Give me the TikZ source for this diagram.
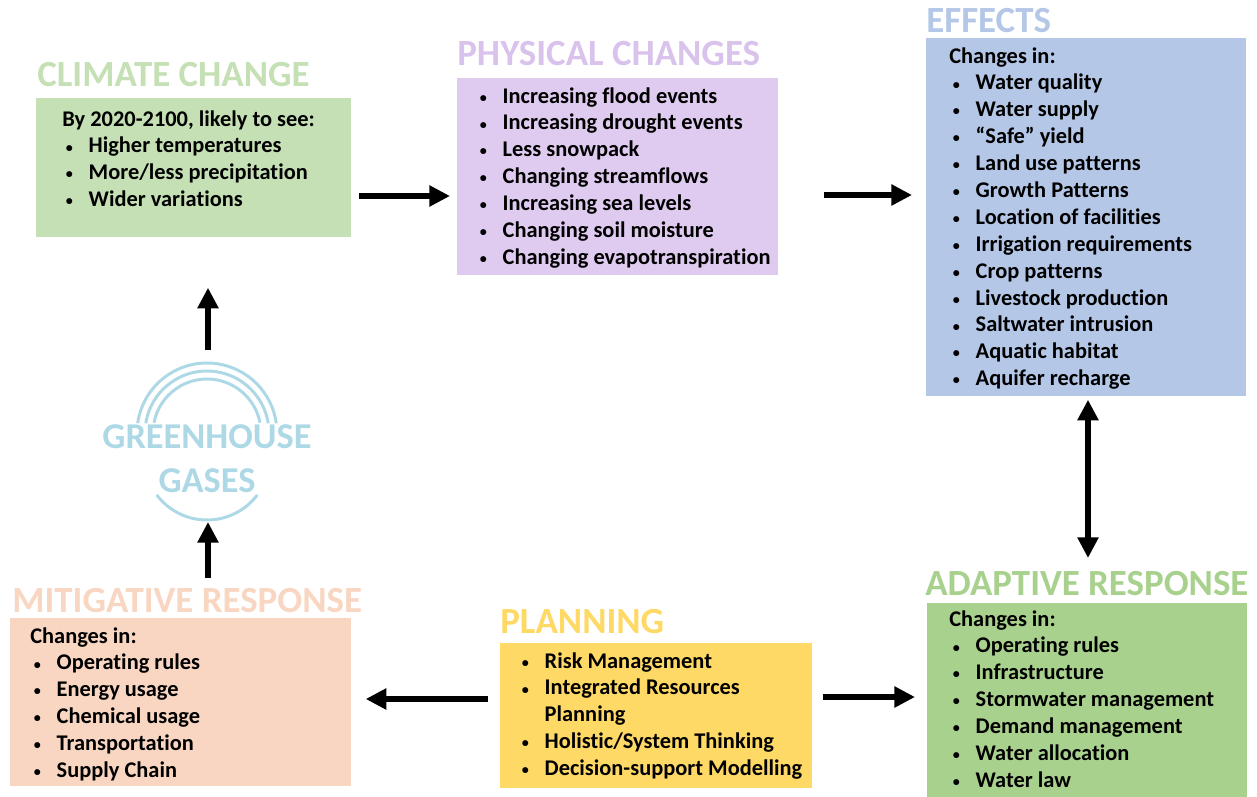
\documentclass[tikz,border=0pt]{standalone}
\usepackage{fontspec}
\setmainfont{Carlito}[Ligatures=NoCommon]
\usetikzlibrary{arrows.meta}

\definecolor{climategreen}{HTML}{C5E0B4}
\definecolor{physbox}{HTML}{DFCBEF}
\definecolor{phystitle}{HTML}{D9C3EC}
\definecolor{effectblue}{HTML}{B4C7E7}
\definecolor{adaptgreen}{HTML}{A9D18E}
\definecolor{planyellow}{HTML}{FFD966}
\definecolor{mitipeach}{HTML}{F8D6C2}
\definecolor{gasblue}{HTML}{ADD8E6}

% small bullet with its hanging indent
\newcommand{\itm}{\makebox[15pt][l]{\hspace{2pt}\raisebox{0.5pt}{\fontsize{8}{8}\selectfont\textbullet}}}

\begin{document}
\begin{tikzpicture}[x=0.02cm, y=-0.02cm,
    panel/.style n args={3}{fill=#1, inner sep=0, anchor=north west,
        minimum width=#2*0.02cm, minimum height=#3*0.02cm},
    heading/.style={text=#1, font=\fontsize{21}{24}\selectfont\bfseries,
        inner sep=0, anchor=base west},
    list/.style={font=\fontsize{12.75}{15.3}\selectfont\bfseries, align=left,
        inner sep=0, anchor=north west},
    ghline/.style={gasblue, line width=1.7pt},
    >={Triangle[length=11.8pt,width=11.5pt]},
    arr/.style={line width=3.6pt}]

    \useasboundingbox (0,0) rectangle (1257,797);

    % climate change
    \node[panel={climategreen}{315}{139}] (cc) at (36,98) {};
    \node[heading=climategreen] (cc-title) at (37,87) {CLIMATE CHANGE};
    \node[list] (cc-list) at ([shift={(26,12)}]cc.north west)
        {By 2020-2100, likely to see:\\
         \itm Higher temperatures\\
         \itm More/less precipitation\\
         \itm Wider variations};

    % physical changes
    \node[panel={physbox}{321}{197}] (pc) at (457,78) {};
    \node[heading=phystitle] (pc-title) at (457,66) {PHYSICAL CHANGES};
    \node[list] (pc-list) at ([shift={(19,9)}]pc.north west)
        {\itm Increasing flood events\\
         \itm Increasing drought events\\
         \itm Less snowpack\\
         \itm Changing streamflows\\
         \itm Increasing sea levels\\
         \itm Changing soil moisture\\
         \itm Changing evapotranspiration};

    % effects
    \node[panel={effectblue}{320}{358}] (ef) at (926,38) {};
    \node[heading=effectblue] (ef-title) at (926,33) {EFFECTS};
    \node[list] (ef-list) at ([shift={(23,9)}]ef.north west)
        {Changes in:\\
         \itm Water quality\\
         \itm Water supply\\
         \itm “Safe” yield\\
         \itm Land use patterns\\
         \itm Growth Patterns\\
         \itm Location of facilities\\
         \itm Irrigation requirements\\
         \itm Crop patterns\\
         \itm Livestock production\\
         \itm Saltwater intrusion\\
         \itm Aquatic habitat\\
         \itm Aquifer recharge};

    % adaptive response
    \node[panel={adaptgreen}{320}{194}] (ar) at (927,603) {};
    \node[heading=adaptgreen] (ar-title) at (925,595) {ADAPTIVE RESPONSE};
    \node[list] (ar-list) at ([shift={(22,7)}]ar.north west)
        {Changes in:\\
         \itm Operating rules\\
         \itm Infrastructure\\
         \itm Stormwater management\\
         \itm Demand management\\
         \itm Water allocation\\
         \itm Water law};

    % planning
    \node[panel={planyellow}{312}{145}] (pl) at (500,643) {};
    \node[heading=planyellow] (pl-title) at (500,633) {PLANNING};
    \node[list] (pl-list) at ([shift={(18,9)}]pl.north west)
        {\itm Risk Management\\
         \itm Integrated Resources\\
         \hspace*{15pt}Planning\\
         \itm Holistic/System Thinking\\
         \itm Decision-support Modelling};

    % mitigative response
    \node[panel={mitipeach}{341}{168}] (mr) at (10,618) {};
    \node[heading=mitipeach] (mr-title) at (12,612) {MITIGATIVE RESPONSE};
    \node[list] (mr-list) at ([shift={(20,9)}]mr.north west)
        {Changes in:\\
         \itm Operating rules\\
         \itm Energy usage\\
         \itm Chemical usage\\
         \itm Transportation\\
         \itm Supply Chain};

    % greenhouse gases, with its arcs
    \draw[ghline] (207,433) ++(188:70) arc[start angle=188, end angle=352, radius=70];
    \draw[ghline] (207,433) ++(189:62) arc[start angle=189, end angle=351, radius=62];
    \draw[ghline] (207,433) ++(191:54) arc[start angle=191, end angle=349, radius=54];
    \draw[ghline] (207,457) ++(143:63) arc[start angle=143, end angle=37, radius=63];
    \node[text=gasblue, font=\fontsize{20.7}{24.9}\selectfont\bfseries,
        align=center, inner sep=0] (gh) at (207,459) {GREENHOUSE\\GASES};

    % the cycle
    \draw[->,arr] ([shift={(7,98)}]cc.north east) -- ([shift={(-7,118)}]pc.north west);
    \draw[->,arr] ([shift={(45,117)}]pc.north east) -- ([shift={(-14,157)}]ef.north west);
    \draw[<->,arr] ([shift={(162,3)}]ef.south west) -- ([shift={(161,-45)}]ar.north west);
    \draw[->,arr] ([shift={(10,54)}]pl.north east) -- ([shift={(-12,94)}]ar.north west);
    \draw[->,arr] ([shift={(-12,56)}]pl.north west) -- ([shift={(14,81)}]mr.north east);
    \draw[->,arr] ([shift={(198,-40)}]mr.north west) -- ([shift={(1,63)}]gh.center);
    \draw[->,arr] ([shift={(1,-109)}]gh.center) -- ([shift={(172,50)}]cc.south west);

\end{tikzpicture}
\end{document}
